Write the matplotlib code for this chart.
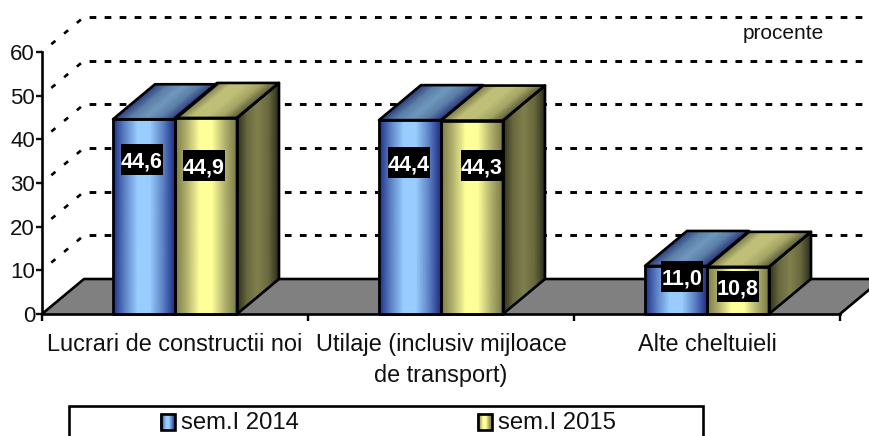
import numpy as np
import matplotlib
matplotlib.use("Agg")
import matplotlib.pyplot as plt
from matplotlib.colors import LinearSegmentedColormap
from matplotlib.patches import Rectangle, Polygon

plt.rcParams['font.family'] = ['Liberation Sans', 'DejaVu Sans']

categories = ["Lucrari de constructii noi", "Utilaje (inclusiv mijloace\nde transport)", "Alte cheltuieli"]
sem_2014 = [44.6, 44.4, 11.0]
sem_2015 = [44.9, 44.3, 10.8]
labels_2014 = ["44,6", "44,4", "11,0"]
labels_2015 = ["44,9", "44,3", "10,8"]
y_ticks = [0, 10, 20, 30, 40, 50, 60]

W, H = 869, 436
fig = plt.figure(figsize=(W / 100, H / 100), dpi=100)
# plot box in pixels: x 42-840, y 52-314
ax = fig.add_axes([42 / W, 1 - 314 / H, 798 / W, 262 / H])
ax.set_xlim(0, 3)
ax.set_ylim(0, 60)

dx = 42 / 266   # depth of the fake 3d, in category units
dy = 35 / 4.367  # same, in value units
bar_w = 62 / 266
right = 3 + 29 / 266  # where the picture is cut off
edge = 1.9

blue_front = LinearSegmentedColormap.from_list("bf", ["#1f2f85", "#5f86c8", "#99ccff", "#99ccff", "#5f86c8", "#1f2f85"])
blue_top = LinearSegmentedColormap.from_list("bt", ["#2a3a7c", "#5c7fa8", "#7099bd", "#5c7fa8", "#2a3a7c"])
yel_front = LinearSegmentedColormap.from_list("yf", ["#7a7a48", "#b5b570", "#ffff99", "#ffff99", "#b5b570", "#7a7a48"])
yel_top = LinearSegmentedColormap.from_list("yt", ["#77774a", "#bfbf78", "#bfbf78", "#a5a565", "#5c5c38"])
yel_side = LinearSegmentedColormap.from_list("ys", ["#2e2e1c", "#6a6a40", "#80804d", "#6a6a40", "#2e2e1c"])


def shaded(x0, x1, y0, y1, skew_x, skew_y, cmap):
    # parallelogram with a left to right gradient
    n = 40
    t = np.linspace(0, 1, n + 1)
    if skew_y == 0 or skew_x == 0:
        X = np.array([x0 + (x1 - x0) * t, x0 + (x1 - x0) * t])
        Y = np.array([np.full(n + 1, y0), np.full(n + 1, y1)])
    if skew_x != 0 and y0 == y1:
        # top face
        X = np.array([x0 + (x1 - x0) * t, x0 + skew_x + (x1 - x0) * t])
        Y = np.array([np.full(n + 1, y0), np.full(n + 1, y0 + skew_y)])
    elif skew_x != 0:
        # side face
        X = np.array([x0 + skew_x * t, x0 + skew_x * t])
        Y = np.array([y0 + skew_y * t, y1 + skew_y * t])
    ax.pcolormesh(X, Y, np.tile(t, (2, 1)), shading='gouraud', cmap=cmap, clip_on=False, zorder=4)
    corners = [(X[0, 0], Y[0, 0]), (X[0, -1], Y[0, -1]), (X[1, -1], Y[1, -1]), (X[1, 0], Y[1, 0])]
    ax.add_patch(Polygon(corners, closed=True, fill=False, ec="black", lw=edge, clip_on=False, zorder=5, joinstyle='round'))


def bar3d(x0, value, c_front, c_top, c_side):
    x1 = x0 + bar_w
    shaded(x0, x1, 0, value, 0, 0, c_front)
    shaded(x0, x1, value, value, dx, dy, c_top)
    if c_side is not None:
        shaded(x1, x1, 0, value, dx, dy, c_side)


def value_label(x, y, text):
    # fixed size black box, 42x31 px
    bw = 42 / 266
    bh = 31 / 4.367
    ax.add_patch(Rectangle((x - bw / 2, y - bh / 2), bw, bh, fc="black", ec="none", clip_on=False, zorder=7))
    ax.text(x, y, text, color="white", fontsize=15.5, fontweight="bold",
            ha="center", va="center_baseline", zorder=8, clip_on=False)


# floor
ax.add_patch(Polygon([(0, 0), (dx, dy), (right, dy), (right, dy * 29 / 42), (3, 0)], closed=True, fc="#808080", ec="none", clip_on=False, zorder=1))
ax.plot([0, dx, right], [0, dy, dy], color="black", lw=edge, clip_on=False, zorder=2)
ax.plot([3, right], [0, dy * 29 / 42], color="black", lw=edge, clip_on=False, zorder=2)

# dashed walls
for v in y_ticks[1:]:
    ax.plot([dx, right], [v + dy, v + dy], color="black", lw=2.1, linestyle=(3.4, (2.3, 2.85)), clip_on=False, zorder=2)
    ax.plot([0, dx], [v, v + dy], color="black", lw=1.9, linestyle=(1.7, (2.0, 4.3)), clip_on=False, zorder=2)

# bars
for i in range(3):
    bar3d(i + 0.5 - bar_w, sem_2014[i], blue_front, blue_top, None)
for i in range(3):
    bar3d(i + 0.5, sem_2015[i], yel_front, yel_top, yel_side)

# value labels, placed by eye relative to the bars
offs_2014 = [(-2, 35.4), (-1, 34.7), (6, 8.6)]
offs_2015 = [(-2, 34.0), (9.5, 34.1), (0, 6.3)]
for i in range(3):
    value_label(i + 0.5 - bar_w / 2 + offs_2014[i][0] / 266, offs_2014[i][1], labels_2014[i])
    value_label(i + 0.5 + bar_w / 2 + offs_2015[i][0] / 266, offs_2015[i][1], labels_2015[i])

# axes
for s in ["top", "right"]:
    ax.spines[s].set_visible(False)
for s in ["left", "bottom"]:
    ax.spines[s].set_linewidth(1.9)
    ax.spines[s].set_zorder(6)
ax.patch.set_alpha(0)
ax.set_yticks(y_ticks)
ax.tick_params(axis='y', labelsize=16, length=4.5, width=1.7, pad=0.5, colors="#111111")
ax.set_xticks([0, 1, 2, 3])
ax.set_xticklabels([])
ax.tick_params(axis='x', length=5, width=1.7)
for i, name in enumerate(categories):
    ax.text(i + 0.5, -4.3, name, fontsize=16.9, color="#111111", ha="center", va="top", linespacing=1.45, clip_on=False)
ax.text((783 - 42) / 266, (314 - 33) / 4.367, "procente", fontsize=15, color="#111111", ha="center", va="center", clip_on=False)

# legend box, cut off by the bottom of the picture
leg = fig.add_axes([0, 0, 1, 1], zorder=10)
leg.set_xlim(0, W)
leg.set_ylim(H, 0)
leg.axis("off")
leg.add_patch(Rectangle((69, 406), 634, 40, fc="white", ec="black", lw=1.9))
t = np.linspace(0, 1, 30)
leg.pcolormesh(np.array([161 + 14 * t, 161 + 14 * t]), np.array([np.full(30, 414), np.full(30, 430)]), np.tile(t, (2, 1)),
               shading='gouraud', cmap=blue_front)
leg.add_patch(Rectangle((161, 414), 14, 16, fill=False, ec="black", lw=1.9))
leg.pcolormesh(np.array([478 + 14 * t, 478 + 14 * t]), np.array([np.full(30, 414), np.full(30, 430)]), np.tile(t, (2, 1)),
               shading='gouraud', cmap=yel_front)
leg.add_patch(Rectangle((478, 414), 14, 16, fill=False, ec="black", lw=1.9))
leg.text(181, 423, "sem.I 2014", fontsize=17.2, color="#111111", va="center")
leg.text(498, 423, "sem.I 2015", fontsize=17.2, color="#111111", va="center")
leg.set_xlim(0, W)
leg.set_ylim(H, 0)

fig.savefig("out.png", dpi=100)
